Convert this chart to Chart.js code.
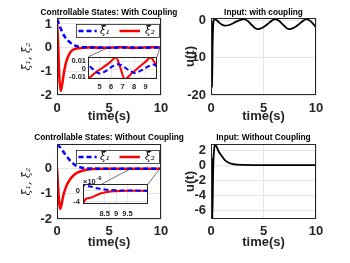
<!DOCTYPE html>
<html><head><meta charset="utf-8">
<script src="https://cdn.jsdelivr.net/npm/chart.js@4.4.1/dist/chart.umd.min.js"></script>
<style>
html,body{margin:0;padding:0;background:#fff;}
#wrap{position:relative;width:350px;height:263px;overflow:hidden;background:#fff;}
canvas{position:absolute;left:0;top:0;}
</style></head><body>
<div id="wrap">
<canvas id="cTL" width="350" height="263"></canvas>
<canvas id="cTR" width="350" height="263"></canvas>
<canvas id="cBL" width="350" height="263"></canvas>
<canvas id="cBR" width="350" height="263"></canvas>
<canvas id="iTL" width="350" height="263"></canvas>
<canvas id="iBL" width="350" height="263"></canvas>
</div>
<script>
// ---------------- data ----------------
const timeTicks = [0, 5, 10];

// Controllable states, with coupling
const tXi1Coup = [0,0.15,0.3,0.5,0.75,1.0,1.25,1.5,1.75,2.0,2.5,3.0,3.5,4.0,4.5,5.0,5.5,6.0,6.6,7.2,7.6,8.1,8.6,9.1,9.7,10];
const xi1Coup  = [1.2,1.05,0.87,0.66,0.46,0.32,0.22,0.14,0.085,0.05,0.02,0.009,0.0065,0.005,-0.001,-0.0055,-0.003,0.002,0.006,0.002,-0.002,-0.005,-0.002,0.002,0.0055,0.003];
const tXi2Coup = [0,0.12,0.22,0.35,0.5,0.65,0.8,1.0,1.25,1.5,2.0,2.5,2.9,3.4,3.75,4.05,4.6,5.2,5.8,6.45,6.8,7.2,7.8,8.4,9.0,9.45,9.75,10];
const xi2Coup  = [1.2,0,-1.2,-1.83,-1.55,-1.1,-0.75,-0.45,-0.22,-0.1,-0.03,-0.01,0.004,0.0135,0.001,-0.011,-0.005,0.001,0.007,0.0145,0.002,-0.0128,-0.0055,0.0018,0.009,0.0145,0.009,0.003];

// Input, with coupling
const tUCoup = [0,0.03,0.06,0.1,0.15,0.22,0.35,0.7,1.0,1.35,1.8,2.3,2.8,3.15,3.5,3.9,4.4,4.9,5.4,5.8,6.1,6.5,6.9,7.4,7.9,8.4,8.8,9.1,9.5,9.8,10];
const uCoup  = [0,-1.5,0.2,-18,-7,-0.8,0.3,-0.4,-1.1,-1.45,-1.2,-0.5,0.1,0.3,-0.2,-1.3,-2.4,-2.0,-1.0,-0.1,0.3,-0.2,-1.3,-2.4,-2.0,-1.0,-0.1,0.3,-0.3,-1.2,-1.9];

// Controllable states, without coupling
const tXi1Free = [0,0.3,0.6,0.9,1.2,1.5,1.8,2.1,2.5,3.0,3.5,4.0,5.0,6.0,7.0,7.55,7.8,8.1,8.5,9.0,9.5,10,10.5];
const xi1Free  = [0.95,0.85,0.68,0.5,0.35,0.22,0.13,0.07,0.03,0.01,0.004,0.0015,2e-4,3e-5,5e-6,2.2e-9,1.6e-9,1.0e-9,0.42e-9,0.13e-9,0.04e-9,0.01e-9,0];
const tXi2Free = [0,0.08,0.16,0.24,0.32,0.45,0.6,0.8,1.0,1.3,1.6,2.0,2.5,3.0,3.5,4.5,5.5,6.5,7.55,7.84,8.28,8.87,9.6,10.5];
const xi2Free  = [0,-0.55,-1.1,-1.45,-1.6,-1.4,-1.08,-0.8,-0.6,-0.4,-0.26,-0.15,-0.07,-0.03,-0.012,-0.002,-3e-4,-4e-5,-4.7e-9,-2.6e-9,-1.1e-9,-0.25e-9,-0.02e-9,0];

// Input, without coupling
const tUFree = [0,0.03,0.06,0.09,0.13,0.2,0.28,0.4,0.55,0.7,1.0,1.3,1.6,2.0,2.5,3.0,4.0,10];
const uFree  = [0,1.5,-1.3,1.0,-7.1,-1.0,1.8,2.7,2.4,1.9,1.25,0.7,0.38,0.15,0.05,0.02,0,0];

// axis ranges and tick labels
const statesCoupRange = [-2, 1.25],  statesCoupTicks = [-2, -1, 0, 1];
const inputCoupRange  = [-20, 0.6],  inputCoupTicks  = [-20, -10, 0];
const statesFreeRange = [-2, 0.98],  statesFreeTicks = [-2, -1, 0];
const inputFreeRange  = [-7.15, 2.8], inputFreeTicks = [-6, -4, -2, 0, 2];
const insetCoupX = [4, 10],  insetCoupXTicks = [5, 6, 7, 8, 9];
const insetCoupY = [-0.0125, 0.015], insetCoupYTicks = [-0.01, 0, 0.01];
const insetFreeX = [7.55, 10.4], insetFreeXTicks = [8.5, 9, 9.5];
const insetFreeY = [-4.8e-9, 2.4e-9], insetFreeYTicks = [-4e-9, 0];

const titles = ['Controllable States: With Coupling', 'Input: with coupling',
                'Controllable States: Without Coupling', 'Input: Without Coupling'];
const labelXi1 = 'ξ̂₁', labelXi2 = 'ξ̂₂';

// ---------------- drawing ----------------
const W = 350, H = 263;
const FONT = "'Liberation Sans', Arial, Helvetica, sans-serif";
const SERIF = "'DejaVu Serif', 'Liberation Serif', serif";
const INK = '#262626';
const GRID = '#e6e6e6';
const zip = (ts, vs) => ts.map((t, i) => ({x: t, y: vs[i]}));

function boxPlugin() {
  return {id: 'box', afterDatasetsDraw(chart) {
    const a = chart.chartArea, c = chart.ctx;
    c.save(); c.strokeStyle = INK; c.lineWidth = 1;
    const l = Math.round(a.left), t = Math.round(a.top), r = Math.round(a.right), b = Math.round(a.bottom);
    c.strokeRect(l + 0.5, t + 0.5, r - l - 1, b - t - 1);
    c.restore();
  }};
}
function titlePlugin(text, y) {
  return {id: 'ttl', afterDraw(chart) {
    const a = chart.chartArea, c = chart.ctx;
    c.save(); c.font = `bold 8.3px ${FONT}`; c.fillStyle = '#000';
    c.textAlign = 'center'; c.textBaseline = 'middle';
    c.fillText(text, (a.left + a.right) / 2, y);
    c.restore();
  }};
}
function legendPlugin(dy) {
  return {id: 'leg', afterDatasetsDraw(chart) {
    const a = chart.chartArea, c = chart.ctx;
    const x0 = Math.round(a.left + 19), x1 = Math.round(a.right - 1), y0 = Math.round(a.top + dy), y1 = y0 + 14;
    c.save();
    c.fillStyle = '#fff'; c.fillRect(x0, y0, x1 - x0, y1 - y0);
    c.strokeStyle = INK; c.lineWidth = 0.8; c.strokeRect(x0 + 0.5, y0 + 0.5, x1 - x0 - 1, y1 - y0 - 1);
    const ym = (y0 + y1) / 2;
    const ds = chart.data.datasets;
    const items = [[2.5, 20.7, 24], [43.5, 64, 69]];
    items.forEach((it, i) => {
      const d = ds[i];
      c.strokeStyle = d.borderColor; c.lineWidth = d.borderWidth;
      c.setLineDash(d.borderDash || []);
      c.beginPath(); c.moveTo(x0 + it[0], ym); c.lineTo(x0 + it[1], ym); c.stroke();
      c.setLineDash([]);
      c.fillStyle = '#000'; c.font = `italic 10.5px ${SERIF}`;
      c.textAlign = 'left'; c.textBaseline = 'middle';
      c.fillText(d.label, x0 + it[2], ym);
    });
    c.restore();
  }};
}

function mainChart(id, o) {
  const A = o.area;
  const yLh = o.yTitleSize * 1.2;
  return new Chart(document.getElementById(id), {
    type: 'line',
    data: {datasets: o.datasets},
    options: {
      responsive: false, animation: false, devicePixelRatio: 1, events: [],
      layout: {padding: {left: 0, top: A.T, right: W - A.R, bottom: 0}},
      plugins: {legend: {display: false}, tooltip: {enabled: false}},
      scales: {
        x: {type: 'linear', min: 0, max: 10,
          afterBuildTicks: s => { s.ticks = timeTicks.map(v => ({value: v})); },
          afterFit: s => { s.height = H - A.B; },
          grid: {color: GRID, lineWidth: 1, drawTicks: false}, border: {display: false},
          ticks: {padding: o.xPad, color: INK, autoSkip: false, maxRotation: 0,
                  font: {family: FONT, weight: 'bold', size: 13}, callback: v => String(v)},
          title: {display: true, text: 'time(s)', color: INK,
                  font: {family: FONT, weight: 'bold', size: 13, lineHeight: 1.2},
                  padding: {top: 0, bottom: H - o.xTitleY - 7.8}}},
        y: {type: 'linear', min: o.yRange[0], max: o.yRange[1],
          afterBuildTicks: s => { s.ticks = o.yTicks.map(v => ({value: v})); },
          afterFit: s => { s.width = A.L; },
          grid: {color: GRID, lineWidth: 1, drawTicks: false}, border: {display: false},
          ticks: {padding: 5, color: INK, autoSkip: false,
                  font: {family: FONT, weight: 'bold', size: 13}, callback: v => String(v)},
          title: {display: true, text: o.yTitle, color: INK,
                  font: {family: o.yTitleFamily, weight: o.yTitleWeight, style: o.yTitleStyle, size: o.yTitleSize, lineHeight: 1.2},
                  padding: {top: o.yTitleX - yLh / 2, bottom: 0}}}
      }
    },
    plugins: o.plugins
  });
}

function insetChart(id, o) {
  const A = o.area;
  return new Chart(document.getElementById(id), {
    type: 'line',
    data: {datasets: o.datasets},
    options: {
      responsive: false, animation: false, devicePixelRatio: 1, events: [],
      layout: {padding: {left: 0, top: A.T, right: W - A.R, bottom: 0}},
      plugins: {legend: {display: false}, tooltip: {enabled: false}},
      scales: {
        x: {type: 'linear', min: o.xRange[0], max: o.xRange[1],
          afterBuildTicks: s => { s.ticks = o.xTicks.map(v => ({value: v})); },
          afterFit: s => { s.height = H - A.B; },
          grid: {color: GRID, lineWidth: 1, drawTicks: false}, border: {display: false},
          ticks: {padding: o.xPad, color: INK, autoSkip: false, maxRotation: 0,
                  font: {family: FONT, weight: 'bold', size: 7.5}, callback: v => String(v)}},
        y: {type: 'linear', min: o.yRange[0], max: o.yRange[1],
          afterBuildTicks: s => { s.ticks = o.yTicks.map(v => ({value: v})); },
          afterFit: s => { s.width = A.L; },
          grid: {color: GRID, lineWidth: 1, drawTicks: false}, border: {display: false},
          ticks: {padding: o.yPad, color: INK, autoSkip: false,
                  font: {family: FONT, weight: 'bold', size: 7.5}, callback: o.yLabel}}
      }
    },
    plugins: [
      {id: 'bg', beforeDraw(chart) {
        const a = chart.chartArea, c = chart.ctx;
        c.save(); c.fillStyle = '#fff'; c.fillRect(a.left, a.top, a.right - a.left, a.bottom - a.top); c.restore();
      }},
      boxPlugin(),
      {id: 'conn', afterDraw(chart) {
        const a = chart.chartArea, c = chart.ctx, m = o.main;
        c.save(); c.strokeStyle = '#333'; c.lineWidth = 0.7;
        o.links.forEach(k => {
          c.beginPath();
          c.moveTo(m.scales.x.getPixelForValue(k[0]), m.scales.y.getPixelForValue(0));
          c.lineTo(chart.scales.x.getPixelForValue(k[1]), a.top);
          c.stroke();
        });
        if (o.exponent) {
          c.fillStyle = INK; c.textAlign = 'left'; c.textBaseline = 'alphabetic';
          c.font = `bold 7.5px ${FONT}`;
          c.fillText('×10', a.left, a.top - 0.5);
          const w = c.measureText('×10').width;
          c.font = `bold 5.8px ${FONT}`;
          c.fillText(o.exponent, a.left + w + 0.5, a.top - 4);
        }
        c.restore();
      }}
    ]
  });
}

function xiSets(t1, v1, t2, v2, w) {
  return [
    {label: labelXi1, data: zip(t1, v1), borderColor: '#0000ff', borderWidth: w, borderDash: [5, 3],
     pointRadius: 0, cubicInterpolationMode: 'monotone', fill: false},
    {label: labelXi2, data: zip(t2, v2), borderColor: '#ff0000', borderWidth: w,
     pointRadius: 0, cubicInterpolationMode: 'monotone', fill: false}
  ];
}
function uSet(t, v) {
  return [{label: 'u(t)', data: zip(t, v), borderColor: '#000000', borderWidth: 1.8,
           pointRadius: 0, cubicInterpolationMode: 'monotone', fill: false}];
}

const xiTitle = {yTitle: 'ξ̂₁, ξ̂₂', yTitleFamily: SERIF, yTitleWeight: 'normal', yTitleStyle: 'italic', yTitleSize: 11, yTitleX: 27};
const uTitle = {yTitle: 'u(t)', yTitleFamily: FONT, yTitleWeight: 'bold', yTitleStyle: 'normal', yTitleSize: 13, yTitleX: 190};

const mTL = mainChart('cTL', Object.assign({
  area: {L: 57, T: 18, R: 161, B: 95}, yRange: statesCoupRange, yTicks: statesCoupTicks,
  xPad: 5.5, xTitleY: 116.7,
  datasets: xiSets(tXi1Coup, xi1Coup, tXi2Coup, xi2Coup, 2.5),
  plugins: [boxPlugin(), legendPlugin(6), titlePlugin(titles[0], 12.5)]
}, xiTitle));

const mTR = mainChart('cTR', Object.assign({
  area: {L: 211, T: 18, R: 316, B: 95}, yRange: inputCoupRange, yTicks: inputCoupTicks,
  xPad: 5.5, xTitleY: 116.7,
  datasets: uSet(tUCoup, uCoup),
  plugins: [boxPlugin(), titlePlugin(titles[1], 12.5)]
}, uTitle));

const mBL = mainChart('cBL', Object.assign({
  area: {L: 57, T: 144, R: 161, B: 219}, yRange: statesFreeRange, yTicks: statesFreeTicks,
  xPad: 4.2, xTitleY: 242.5,
  datasets: xiSets(tXi1Free, xi1Free, tXi2Free, xi2Free, 2.5),
  plugins: [boxPlugin(), legendPlugin(5.5), titlePlugin(titles[2], 138)]
}, xiTitle));

const mBR = mainChart('cBR', Object.assign({
  area: {L: 211, T: 144, R: 316, B: 219}, yRange: inputFreeRange, yTicks: inputFreeTicks,
  xPad: 4.2, xTitleY: 242.5,
  datasets: uSet(tUFree, uFree),
  plugins: [boxPlugin(), titlePlugin(titles[3], 138)]
}, uTitle));

insetChart('iTL', {
  area: {L: 88, T: 57, R: 157, B: 79}, xRange: insetCoupX, xTicks: insetCoupXTicks,
  yRange: insetCoupY, yTicks: insetCoupYTicks, xPad: 3.8, yPad: 2,
  yLabel: v => String(v),
  datasets: xiSets(tXi1Coup, xi1Coup, tXi2Coup, xi2Coup, 2),
  main: mTL, links: [[4.9, 4], [9.9, 10]]
});

insetChart('iBL', {
  area: {L: 83, T: 184, R: 148, B: 204}, xRange: insetFreeX, xTicks: insetFreeXTicks,
  yRange: insetFreeY, yTicks: insetFreeYTicks, xPad: 5, yPad: 3,
  yLabel: v => String(Math.round(v / 1e-9)),
  datasets: xiSets(tXi1Free, xi1Free, tXi2Free, xi2Free, 2),
  main: mBL, links: [[7.1, 8.37], [9.9, 10.4]], exponent: '-9'
});
</script>
</body></html>
